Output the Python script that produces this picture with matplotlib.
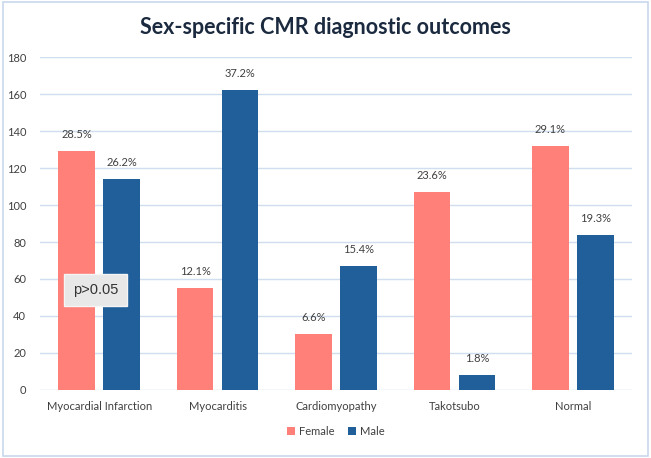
import matplotlib
matplotlib.use('Agg')
import matplotlib.pyplot as plt
import numpy as np
from matplotlib.patches import Rectangle

categories = ['Myocardial Infarction', 'Myocarditis', 'Cardiomyopathy', 'Takotsubo', 'Normal']
female = [129, 55, 30, 107, 132]
male = [114, 162, 67, 8, 84]
female_pct = ['28.5%', '12.1%', '6.6%', '23.6%', '29.1%']
male_pct = ['26.2%', '37.2%', '15.4%', '1.8%', '19.3%']
yticks = [0, 20, 40, 60, 80, 100, 120, 140, 160, 180]

plt.rcParams['font.family'] = ['Lato', 'DejaVu Sans']
txt = '#404040'
fcol = '#FF7F79'
mcol = '#215F9A'

fig = plt.figure(figsize=(6.51, 4.58), dpi=100)
ax = fig.add_axes([0.0614, 0.1485, 0.9096, 0.727])

x = np.arange(len(categories))
w = 0.31
ax.bar(x - 0.19, female, w, color=fcol, label='Female', zorder=3)
ax.bar(x + 0.19, male, w, color=mcol, label='Male', zorder=3)

for i in range(len(categories)):
    ax.text(x[i] - 0.19, female[i] + 6, female_pct[i], ha='center', va='bottom', fontsize=8, color=txt)
    ax.text(x[i] + 0.19, male[i] + 6, male_pct[i], ha='center', va='bottom', fontsize=8, color=txt)

ax.set_xlim(-0.5, len(categories) - 0.5)
ax.set_ylim(0, 180)
ax.set_yticks(yticks)
ax.set_xticks(x)
ax.set_xticklabels(categories)
ax.tick_params(axis='both', length=0, labelsize=8, colors=txt)
ax.tick_params(axis='x', pad=8)
ax.tick_params(axis='y', pad=10)
ax.grid(axis='y', color='#D0DEEF', linewidth=1, zorder=0)
for s in ax.spines.values():
    s.set_visible(False)

ax.text(-0.03, 54, 'p>0.05', ha='center', va='center', fontsize=10.5, color='#333333',
        family='Liberation Sans',
        bbox=dict(boxstyle='square,pad=0.6', facecolor='#E8E8E8', edgecolor='#F5F5F5'), zorder=5)

fig.text(0.5, 0.94, 'Sex-specific CMR diagnostic outcomes', ha='center', va='center',
         fontsize=15.5, fontweight='bold', color='#1B2A3F')

ax.legend(loc='center', bbox_to_anchor=(0.5, -0.125), ncol=2, frameon=False, fontsize=8,
          handlelength=0.7, handleheight=0.7, handletextpad=0.4, columnspacing=1.2, labelcolor=txt)

fig.patches.append(Rectangle((0.004, 0.004), 0.992, 0.992, transform=fig.transFigure,
                             fill=False, edgecolor='#C8D8EC', linewidth=1.2))

fig.savefig('out.png', dpi=100)
